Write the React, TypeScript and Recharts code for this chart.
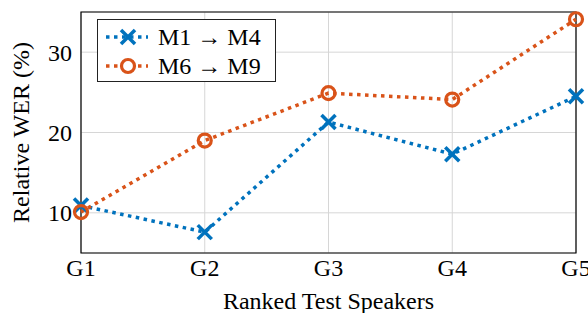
import { LineChart, Line, XAxis, YAxis, CartesianGrid, ReferenceArea } from 'recharts';

const groups = ['G1', 'G2', 'G3', 'G4', 'G5'];
const m1ToM4 = [10.9, 7.6, 21.3, 17.3, 24.5];
const m6ToM9 = [10.1, 19.0, 24.9, 24.1, 34.1];
const yTicks = [10, 20, 30];

const BLUE = '#0072BD';
const ORANGE = '#D95319';
const FONT = '"Liberation Serif", "Times New Roman", Times, serif';
const FS = 24;

const data = groups.map((g, i) => ({ group: g, a: m1ToM4[i], b: m6ToM9[i] }));

const CrossDot = (props: any) => {
  const { cx, cy } = props;
  if (cx == null || cy == null) return null;
  const s = 7;
  return (
    <g stroke={BLUE} strokeWidth={3.5} strokeLinecap="butt">
      <line x1={cx - s} y1={cy - s} x2={cx + s} y2={cy + s} />
      <line x1={cx - s} y1={cy + s} x2={cx + s} y2={cy - s} />
    </g>
  );
};

const CircleDot = (props: any) => {
  const { cx, cy } = props;
  if (cx == null || cy == null) return null;
  return <circle cx={cx} cy={cy} r={6.5} fill="none" stroke={ORANGE} strokeWidth={3.2} />;
};

const YLabel = (props: any) => {
  const vb = props.viewBox || { x: 0, y: 12, width: 81, height: 241 };
  const x = vb.x + 21;
  const y = vb.y + vb.height / 2;
  return (
    <text
      x={x}
      y={y}
      transform={`rotate(-90, ${x}, ${y})`}
      textAnchor="middle"
      dominantBaseline="central"
      fill="#000"
      fontSize={FS}
      fontFamily={FONT}
    >
      Relative WER (%)
    </text>
  );
};

const LegendBox = () => (
  <div
    style={{
      position: 'absolute',
      left: 97,
      top: 19,
      width: 179,
      height: 63,
      border: '1px solid #222',
      background: '#fff',
      fontFamily: FONT,
      fontSize: FS,
      boxSizing: 'border-box',
    }}
  >
    {[
      { label: 'M1 → M4', color: BLUE, kind: 'x' },
      { label: 'M6 → M9', color: ORANGE, kind: 'o' },
    ].map((item, i) => (
      <div key={i} style={{ display: 'flex', alignItems: 'center', height: 29, marginTop: i === 0 ? 2 : 0 }}>
        <svg width={42} height={28} style={{ marginLeft: 8 }}>
          <line x1={0} y1={14} x2={42} y2={14} stroke={item.color} strokeWidth={3.5} strokeDasharray="3.5 4.5" />
          {item.kind === 'x' ? (
            <g stroke={item.color} strokeWidth={3.5}>
              <line x1={15} y1={7} x2={29} y2={21} />
              <line x1={15} y1={21} x2={29} y2={7} />
            </g>
          ) : (
            <circle cx={22} cy={14} r={6.5} fill="#fff" stroke={item.color} strokeWidth={3.2} />
          )}
        </svg>
        <span style={{ marginLeft: 10, color: '#000', lineHeight: 1 }}>{item.label}</span>
      </div>
    ))}
  </div>
);

export default function App() {
  return (
    <div style={{ position: 'absolute', left: 0, top: 0, width: 588, height: 313, background: '#fff', fontFamily: FONT }}>
      <LineChart
        width={588}
        height={313}
        data={data}
        margin={{ top: 12, right: 12, bottom: 0, left: 0 }}
        style={{ fontFamily: FONT }}
      >
        <CartesianGrid stroke="#d6d6d6" strokeWidth={1} />
        <XAxis
          dataKey="group"
          interval={0}
          height={60}
          tickLine={false}
          axisLine={false}
          tickMargin={0}
          tick={{ fill: '#000', fontSize: FS, fontFamily: FONT }}
          label={{ value: 'Ranked Test Speakers', position: 'insideBottom', offset: 4, fill: '#000', fontSize: FS, fontFamily: FONT }}
        />
        <YAxis
          domain={[5, 35]}
          ticks={yTicks}
          width={81}
          tickLine={false}
          axisLine={false}
          tickMargin={3}
          tick={{ fill: '#000', fontSize: FS, fontFamily: FONT }}
          label={<YLabel />}
        />
        <ReferenceArea x1="G1" x2="G5" y1={5} y2={35} fill="none" stroke="#000" strokeWidth={1.2} ifOverflow="extendDomain" />
        <Line
          type="linear"
          dataKey="a"
          stroke={BLUE}
          strokeWidth={3.5}
          strokeDasharray="3.5 4.5"
          dot={<CrossDot />}
          isAnimationActive={false}
        />
        <Line
          type="linear"
          dataKey="b"
          stroke={ORANGE}
          strokeWidth={3.5}
          strokeDasharray="3.5 4.5"
          dot={<CircleDot />}
          isAnimationActive={false}
        />
      </LineChart>
      <LegendBox />
    </div>
  );
}
